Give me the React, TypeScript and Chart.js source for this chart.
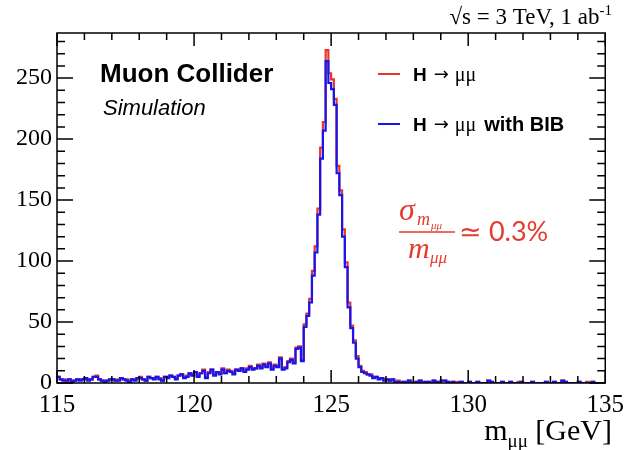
import React, { useEffect, useRef } from "react";
import { Chart, registerables } from "chart.js";

Chart.register(...registerables);

// Histogram: 200 bins of 0.1 GeV from 115 to 135 GeV
const X_MIN = 115;
const X_MAX = 135;
const BIN_WIDTH = 0.1;
const Y_MAX = 287;

const xTickLabels = [115, 120, 125, 130, 135];
const yTickLabels = [0, 50, 100, 150, 200, 250];

// H -> mu mu (red)
const redCounts = [
  5, 3, 3, 2, 3, 2, 2, 3, 3, 3,
  4, 3, 3, 5, 6, 3, 2, 2, 2, 3,
  3, 2, 3, 4, 3, 3, 1, 3, 3, 4,
  5, 3, 2, 5, 4, 4, 5, 4, 2, 5,
  5, 6, 5, 4, 6, 7, 5, 6, 8, 7,
  9, 6, 8, 11, 5, 9, 11, 7, 9, 8,
  12, 8, 11, 10, 8, 11, 11, 12, 10, 12,
  14, 12, 12, 15, 13, 16, 14, 17, 12, 15,
  14, 21, 12, 13, 18, 20, 17, 29, 30, 19,
  48, 57, 69, 92, 112, 143, 193, 214, 273, 254,
  249, 233, 178, 158, 126, 99, 66, 47, 35, 22,
  14, 10, 9, 7, 7, 5, 5, 4, 4, 3,
  3, 2, 3, 1, 2, 0, 1, 1, 2, 0,
  1, 1, 2, 0, 1, 1, 0, 2, 1, 1,
  2, 2, 1, 0, 1, 0, 1, 1, 0, 0,
  1, 0, 0, 1, 0, 0, 0, 2, 1, 0,
  0, 0, 1, 0, 0, 1, 0, 0, 1, 1,
  0, 0, 0, 1, 0, 0, 0, 0, 1, 0,
  0, 1, 0, 0, 2, 1, 0, 0, 0, 0,
  1, 0, 0, 1, 0, 1, 0, 0, 0, 0,
];

// H -> mu mu with BIB (blue)
const blueCounts = [
  5, 3, 2, 2, 3, 1, 2, 3, 2, 3,
  4, 2, 3, 5, 5, 3, 2, 1, 2, 3,
  3, 2, 2, 4, 3, 2, 1, 3, 2, 4,
  4, 3, 2, 5, 4, 3, 5, 3, 2, 5,
  4, 6, 5, 3, 6, 7, 4, 5, 8, 6,
  9, 5, 8, 10, 4, 8, 11, 6, 9, 7,
  11, 8, 10, 9, 7, 11, 10, 12, 9, 11,
  13, 11, 12, 14, 12, 15, 13, 16, 11, 14,
  13, 20, 11, 12, 17, 19, 16, 28, 29, 18,
  46, 55, 66, 88, 107, 138, 184, 207, 264, 246,
  241, 228, 172, 154, 120, 95, 62, 45, 33, 20,
  13, 9, 8, 7, 6, 4, 5, 3, 4, 2,
  3, 2, 3, 1, 1, 0, 1, 0, 2, 0,
  0, 1, 2, 0, 1, 1, 0, 2, 1, 0,
  2, 2, 1, 0, 1, 0, 0, 1, 0, 0,
  1, 0, 0, 1, 0, 0, 0, 2, 1, 0,
  0, 0, 1, 0, 0, 1, 0, 0, 0, 1,
  0, 0, 0, 1, 0, 0, 0, 0, 1, 0,
  0, 1, 0, 0, 2, 1, 0, 0, 0, 0,
  1, 0, 0, 0, 0, 1, 0, 0, 0, 0,
];

const RED = "#e8352c";
const BLUE = "#1515f0";
const FORMULA_RED = "#e33b2e";

function toSteps(counts: number[]) {
  const pts = counts.map((v, i) => ({ x: X_MIN + i * BIN_WIDTH, y: v }));
  pts.push({ x: X_MAX, y: counts[counts.length - 1] });
  return pts;
}

const framePlugin = {
  id: "rootFrame",
  afterDatasetsDraw(chart: any) {
    const ctx = chart.ctx;
    const { left, right, top, bottom } = chart.chartArea;
    const xs = chart.scales.x;
    const ys = chart.scales.y;
    ctx.save();
    ctx.strokeStyle = "#000";
    ctx.lineWidth = 1.5;
    ctx.strokeRect(left, top, right - left, bottom - top);
    for (let v = X_MIN; v <= X_MAX; v += 1) {
      const px = xs.getPixelForValue(v);
      const major = v % 5 === 0;
      const len = major ? 13 : 7;
      ctx.beginPath();
      ctx.moveTo(px, bottom);
      ctx.lineTo(px, bottom - len);
      ctx.moveTo(px, top);
      ctx.lineTo(px, top + len);
      ctx.stroke();
    }
    for (let v = 0; v <= Y_MAX; v += 10) {
      const py = ys.getPixelForValue(v);
      const major = v % 50 === 0;
      const len = major ? 16 : 8;
      ctx.beginPath();
      ctx.moveTo(left, py);
      ctx.lineTo(left + len, py);
      ctx.moveTo(right, py);
      ctx.lineTo(right - len, py);
      ctx.stroke();
    }
    ctx.restore();
  },
  afterDraw(chart: any) {
    const ctx = chart.ctx;
    ctx.save();
    ctx.fillStyle = "#000";
    ctx.textBaseline = "alphabetic";
    ctx.textAlign = "left";

    // Top-right energy/luminosity label
    const rightEdge = 612;
    const sup = "-1";
    ctx.font = '15px "Liberation Serif"';
    const supW = ctx.measureText(sup).width;
    ctx.font = '23px "Liberation Serif"';
    const main = "\u221As = 3 TeV, 1 ab";
    const mainW = ctx.measureText(main).width;
    ctx.fillText(main, rightEdge - supW - mainW, 24);
    ctx.font = '15px "Liberation Serif"';
    ctx.fillText(sup, rightEdge - supW, 15);

    // X axis title
    ctx.font = '30px "Liberation Serif"';
    const geV = " [GeV]";
    const geVW = ctx.measureText(geV).width;
    const mW = ctx.measureText("m").width;
    ctx.font = '19px "Liberation Serif"';
    const muW = ctx.measureText("\u03bc\u03bc").width;
    const startX = rightEdge - geVW - muW - mW;
    ctx.font = '30px "Liberation Serif"';
    ctx.fillText("m", startX, 440);
    ctx.font = '19px "Liberation Serif"';
    ctx.fillText("\u03bc\u03bc", startX + mW, 447);
    ctx.font = '30px "Liberation Serif"';
    ctx.fillText(geV, startX + mW + muW, 440);

    // Muon Collider / Simulation
    ctx.font = 'bold 26px "Liberation Sans"';
    ctx.fillText("Muon Collider", 100, 82);
    ctx.font = 'italic 22px "Liberation Sans"';
    ctx.fillText("Simulation", 103, 115);

    // Legend
    ctx.lineWidth = 2;
    ctx.strokeStyle = RED;
    ctx.beginPath();
    ctx.moveTo(378, 74);
    ctx.lineTo(400, 74);
    ctx.stroke();
    ctx.strokeStyle = BLUE;
    ctx.beginPath();
    ctx.moveTo(378, 124);
    ctx.lineTo(400, 124);
    ctx.stroke();
    const drawEntry = (y: number, extra: string) => {
      let x = 413;
      ctx.font = 'bold 19px "Liberation Sans"';
      ctx.fillText("H", x, y);
      x += ctx.measureText("H").width + 7;
      ctx.font = '18px "DejaVu Sans"';
      ctx.fillText("\u2192", x, y - 1);
      x += ctx.measureText("\u2192").width + 6;
      ctx.font = '20px "Liberation Serif"';
      ctx.fillText("\u03bc\u03bc", x, y);
      x += ctx.measureText("\u03bc\u03bc").width + 8;
      if (extra) {
        ctx.font = 'bold 20px "Liberation Sans"';
        ctx.fillText(extra, x, y);
      }
    };
    drawEntry(81, "");
    drawEntry(131, "with BIB");

    // Resolution formula
    ctx.fillStyle = FORMULA_RED;
    ctx.strokeStyle = FORMULA_RED;
    ctx.font = 'italic 32px "Liberation Serif"';
    ctx.fillText("\u03c3", 399, 220);
    ctx.font = 'italic 18px "Liberation Serif"';
    ctx.fillText("m", 417, 225);
    ctx.font = 'italic 11px "Liberation Serif"';
    ctx.fillText("\u03bc\u03bc", 431, 229);
    ctx.lineWidth = 1.6;
    ctx.beginPath();
    ctx.moveTo(399, 232);
    ctx.lineTo(455, 232);
    ctx.stroke();
    ctx.font = 'italic 30px "Liberation Serif"';
    ctx.fillText("m", 408, 258);
    ctx.font = 'italic 17px "Liberation Serif"';
    ctx.fillText("\u03bc\u03bc", 430, 263);
    ctx.font = '27px "Lato"';
    ctx.fillText("\u2243 0.3%", 459, 241);

    ctx.restore();
  },
};

export default function App() {
  const canvasRef = useRef<HTMLCanvasElement | null>(null);

  useEffect(() => {
    if (!canvasRef.current) return;
    const chart = new Chart(canvasRef.current, {
      type: "line",
      data: {
        datasets: [
          {
            label: "H \u2192 \u03bc\u03bc with BIB",
            data: toSteps(blueCounts),
            borderColor: BLUE,
            borderWidth: 2.2,
            pointRadius: 0,
            stepped: "before",
            fill: false,
          },
          {
            label: "H \u2192 \u03bc\u03bc",
            data: toSteps(redCounts),
            borderColor: RED,
            borderWidth: 2.2,
            pointRadius: 0,
            stepped: "before",
            fill: false,
          },
        ],
      },
      options: {
        animation: false,
        responsive: true,
        maintainAspectRatio: false,
        layout: { padding: { top: 33, right: 20, left: 0, bottom: 0 } },
        plugins: { legend: { display: false }, tooltip: { enabled: false } },
        scales: {
          x: {
            type: "linear",
            min: X_MIN,
            max: X_MAX,
            grid: { display: false, drawTicks: false },
            border: { display: false },
            afterBuildTicks: (scale: any) => {
              scale.ticks = xTickLabels.map((v) => ({ value: v }));
            },
            afterFit: (scale: any) => {
              scale.height = 67;
            },
            ticks: {
              autoSkip: false,
              maxRotation: 0,
              padding: 7,
              color: "#000",
              font: { family: "Liberation Serif", size: 25 },
              callback: (v: any) => String(v),
            },
          },
          y: {
            type: "linear",
            min: 0,
            max: Y_MAX,
            grid: { display: false, drawTicks: false },
            border: { display: false },
            afterBuildTicks: (scale: any) => {
              scale.ticks = yTickLabels.map((v) => ({ value: v }));
            },
            afterFit: (scale: any) => {
              scale.width = 57;
            },
            ticks: {
              padding: 5,
              color: "#000",
              font: { family: "Liberation Serif", size: 24 },
              callback: (v: any) => String(v),
            },
          },
        },
      },
      plugins: [framePlugin],
    });
    return () => chart.destroy();
  }, []);

  return (
    <div
      style={{
        position: "fixed",
        left: 0,
        top: 0,
        width: 631,
        height: 450,
        background: "#fff",
      }}
    >
      <canvas ref={canvasRef} />
    </div>
  );
}
